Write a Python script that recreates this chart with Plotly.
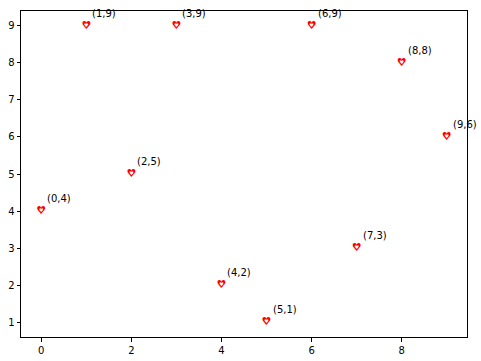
import plotly.graph_objects as go

x_vals = [0, 1, 2, 3, 4, 5, 6, 7, 8, 9]
y_vals = [4, 9, 5, 9, 2, 1, 9, 3, 8, 6]
labels = [f"({a},{b})" for a, b in zip(x_vals, y_vals)]
x_ticks = [0, 2, 4, 6, 8]
y_ticks = [1, 2, 3, 4, 5, 6, 7, 8, 9]

fig = go.Figure()
fig.add_trace(go.Scatter(
    x=x_vals, y=y_vals, mode="text", text=["♥"] * len(x_vals),
    textposition="middle center", cliponaxis=False,
    textfont=dict(family="DejaVu Sans", size=11, color="red"),
    hoverinfo="skip", showlegend=False,
))
fig.add_trace(go.Scatter(
    x=x_vals, y=y_vals, mode="text", text=["♥"] * len(x_vals),
    textposition="middle center", cliponaxis=False,
    textfont=dict(family="DejaVu Sans", size=5, color="white"),
    hoverinfo="skip", showlegend=False,
))
for a, b, t in zip(x_vals, y_vals, labels):
    fig.add_annotation(x=a, y=b, text=t, showarrow=False, xanchor="left", yanchor="bottom",
                       xshift=4, yshift=5, font=dict(family="DejaVu Sans", size=10, color="black"))

axis_common = dict(showgrid=False, zeroline=False, showline=True, linecolor="black", linewidth=1,
                   mirror=True, ticks="outside", ticklen=3.5, tickcolor="black", automargin=False,
                   tickfont=dict(family="DejaVu Sans", size=10, color="black"))
fig.update_xaxes(range=[-0.45, 9.45], tickvals=x_ticks, **axis_common)
fig.update_yaxes(range=[0.6, 9.4], tickvals=y_ticks, **axis_common)
fig.update_layout(width=481, height=361, margin=dict(l=21, r=13.5, t=11, b=23.5),
                  plot_bgcolor="white", paper_bgcolor="white", hovermode=False)
fig.write_html("out.html", config={"displayModeBar": False},
               post_script="document.body.style.margin='0';document.body.style.overflow='hidden';")
